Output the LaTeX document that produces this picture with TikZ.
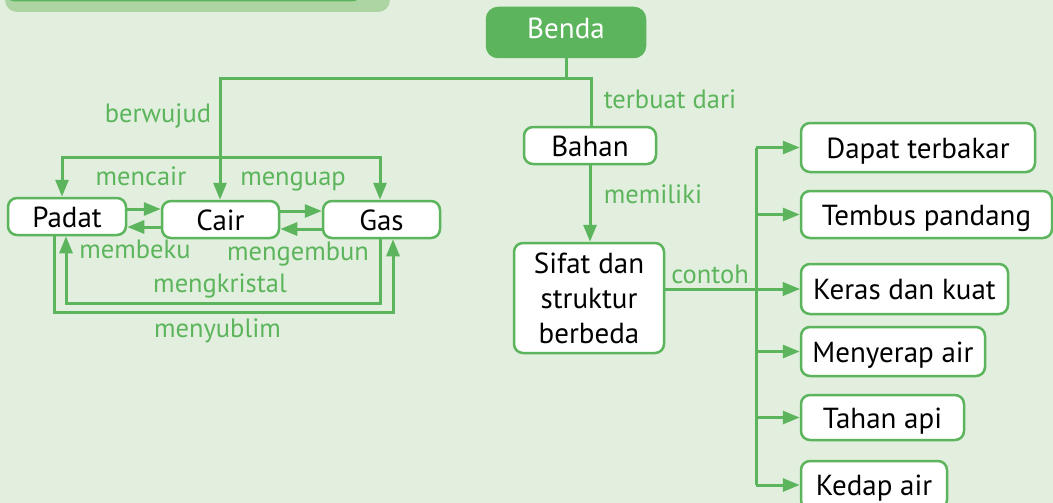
\documentclass[tikz,border=0pt]{standalone}
\usepackage{fontspec}
\setmainfont{PT Sans}
\usetikzlibrary{arrows.meta}
\definecolor{bg}{RGB}{226,239,222}
\definecolor{gr}{RGB}{92,181,92}
\definecolor{lgr}{RGB}{172,213,163}
\tikzset{
  boxbase/.style={draw=gr, line width=2.5pt, rounded corners=9pt, fill=white, inner sep=0pt,
    font=\fontsize{29}{35}\selectfont, text=black},
  box/.style={boxbase, text height=21pt, text depth=0pt},
  lbl/.style={text=gr, font=\fontsize{26.5}{30}\selectfont, anchor=base, inner sep=0pt},
  conn/.style={draw=gr, line width=3pt},
  arr/.style={conn, -{Triangle[length=17pt,width=13pt]}},
}
\begin{document}
\begin{tikzpicture}[x=1pt,y=-1pt]
\useasboundingbox (0,0) rectangle (1053,503);
\fill[bg] (0,0) rectangle (1053,503);
% banner
\fill[lgr, rounded corners=12pt] (5,-30) rectangle (390,12);
\fill[gr, rounded corners=10pt] (5,-30) rectangle (362,1.5);

% nodes
\node[box, fill=gr, draw=gr, text=white, text height=13pt, minimum width=158pt, minimum height=49pt, rounded corners=11pt] (benda) at (566,32.5) {Benda};
\node[box, minimum width=118pt, minimum height=37pt] (padat) at (67,216.5) {Padat};
\node[box, minimum width=117pt, minimum height=37pt] (cair) at (220.5,219.5) {Cair};
\node[box, minimum width=117pt, minimum height=37pt] (gas) at (381.5,219.5) {Gas};
\node[box, minimum width=132pt, minimum height=37pt] (bahan) at (590,145.5) {Bahan};
\node[boxbase, align=center, minimum width=150pt, minimum height=110pt] (sifat) at (589,298) {Sifat dan\\struktur\\berbeda};
\node[box, minimum width=234pt, minimum height=49pt] (dapat) at (918,147.5) {Dapat terbakar};
\node[box, minimum width=251pt, minimum height=47pt] (tembus) at (926.5,214.5) {Tembus pandang};
\node[box, minimum width=207pt, minimum height=50pt] (keras) at (904.5,289) {Keras dan kuat};
\node[box, minimum width=184pt, minimum height=49pt] (menyerap) at (893,351.5) {Menyerap air};
\node[box, minimum width=163pt, minimum height=45pt] (tahan) at (882.5,417.5) {Tahan api};
\node[box, minimum width=146pt, minimum height=48pt] (kedap) at (874,485) {Kedap air};

% coordinates
\coordinate (j1) at (566,79);
\coordinate (j2) at (220,79);
\coordinate (j3) at (220,157);
\coordinate (j4) at (591,79);
\coordinate (k1) at (380,303);
\coordinate (k2) at (66,303);
\coordinate (m1) at (54,312);
\coordinate (m2) at (393,312);
\coordinate (sp) at (756,0);

% connectors
\draw[conn] (benda.south) -- (j1);
\draw[arr] (bahan.north -| j4) -- (j4) -- (j2) -- (j2 |- cair.north);
\draw[arr] (j3) -| ([xshift=-5pt]padat.north);
\draw[arr] (j3) -| ([xshift=-1.5pt]gas.north);
\draw[arr] (bahan.south) -- (bahan.south |- sifat.north);

\draw[arr] (padat.east |- 0,209) -- (cair.west |- 0,209);
\draw[arr] (cair.west |- 0,227) -- (padat.east |- 0,227);
\draw[arr] (cair.east |- 0,211) -- (gas.west |- 0,211);
\draw[arr] (gas.west |- 0,229) -- (cair.east |- 0,229);

\draw[arr] (k1 |- gas.south) -- (k1) -- (k2) -- (k2 |- padat.south);
\draw[arr] (m1 |- padat.south) -- (m1) -- (m2) -- (m2 |- gas.south);

\draw[conn] (sp |- dapat.west) -- (sp |- kedap.west);
\foreach \n in {dapat,tembus,keras,menyerap,tahan,kedap}
  \draw[arr] (sp |- \n.west) -- (\n.west);
\draw[arr] (sifat.east |- keras.west) -- (keras.west);

% labels
\node[lbl] (lberwujud) at (158,122) {berwujud};
\node[lbl] (lterbuat) at (670,108) {terbuat dari};
\node[lbl] (lmencair) at (141,185) {mencair};
\node[lbl] (lmenguap) at (293,185) {menguap};
\node[lbl] (lmembeku) at (135,258) {membeku};
\node[lbl] (lmengembun) at (298,260) {mengembun};
\node[lbl] (lmengkristal) at (220,292) {mengkristal};
\node[lbl] (lmenyublim) at (217.5,337) {menyublim};
\node[lbl] (lmemiliki) at (653,203) {memiliki};
\node[lbl] (lcontoh) at (710,283) {contoh};
\end{tikzpicture}
\end{document}
